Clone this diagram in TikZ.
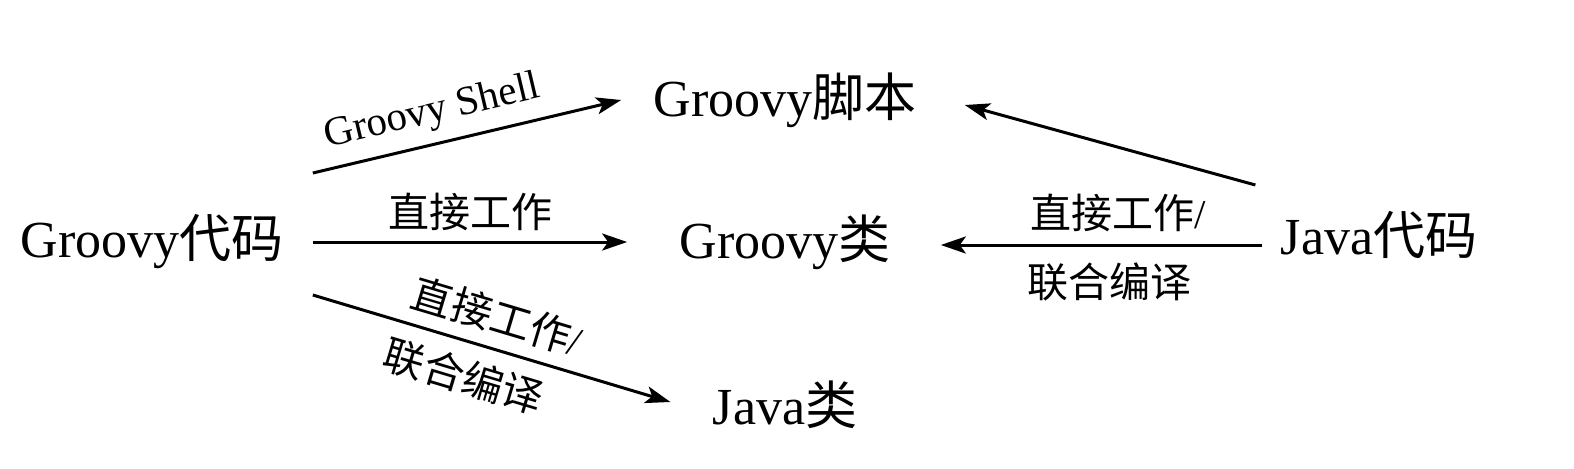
\documentclass[tikz,border=0pt]{standalone}
\usepackage{fontspec}
\setmainfont{Liberation Serif}
\newfontfamily\cjk{Noto Sans CJK SC}
\usetikzlibrary{calc,arrows.meta}

\begin{document}
\begin{tikzpicture}[x=0.5pt, y=-0.5pt,
    term/.style={inner sep=0pt, font=\fontsize{26}{30}\selectfont},
    edgelabel/.style={inner sep=0pt, font=\fontsize{20.5}{24}\selectfont},
    flow/.style={line width=1.5pt, -{Stealth[length=12.5pt, width=8.5pt, inset=3pt]}}]
    \useasboundingbox (0, 0) rectangle (1574, 468);

    \node[term] (gcode) at (152, 242) {Groovy{\cjk 代码}};
    \node[term] (gscript) at (785, 100) {Groovy{\cjk 脚本}};
    \node[term] (gclass) at (785, 242) {Groovy{\cjk 类}};
    \node[term] (jclass) at (785, 405) {Java{\cjk 类}};
    \node[term] (jcode) at (1379, 235) {Java{\cjk 代码}};

    \draw[flow] ($(gcode.east)+(29, -69)$) -- ($(gscript.west)+(-32, 0)$)
        node[edgelabel, pos=0.41, sloped, above=5.5pt] {Groovy Shell};
    \draw[flow] ($(gcode.east)+(29, 0)$) -- ($(gclass.west)+(-52, 0)$)
        node[edgelabel, pos=0.5, above=5pt] {\cjk 直接工作};
    \draw[flow] ($(gcode.east)+(29, 53)$) -- ($(jclass.west)+(-42, -3)$)
        node[edgelabel, pos=0.49, sloped, above=6pt] {{\cjk 直接工作}/}
        node[edgelabel, pos=0.45, sloped, below=7pt] {\cjk 联合编译};

    \draw[flow] ($(jcode.west)+(-25, -50)$) -- ($(gscript.east)+(48, 5)$);
    \draw[flow] ($(jcode.west)+(-18, 10)$) -- ($(gclass.east)+(50, 3)$)
        node[edgelabel, pos=0.45, above=6pt] {{\cjk 直接工作}/}
        node[edgelabel, pos=0.475, below=8pt] {\cjk 联合编译};
\end{tikzpicture}
\end{document}
